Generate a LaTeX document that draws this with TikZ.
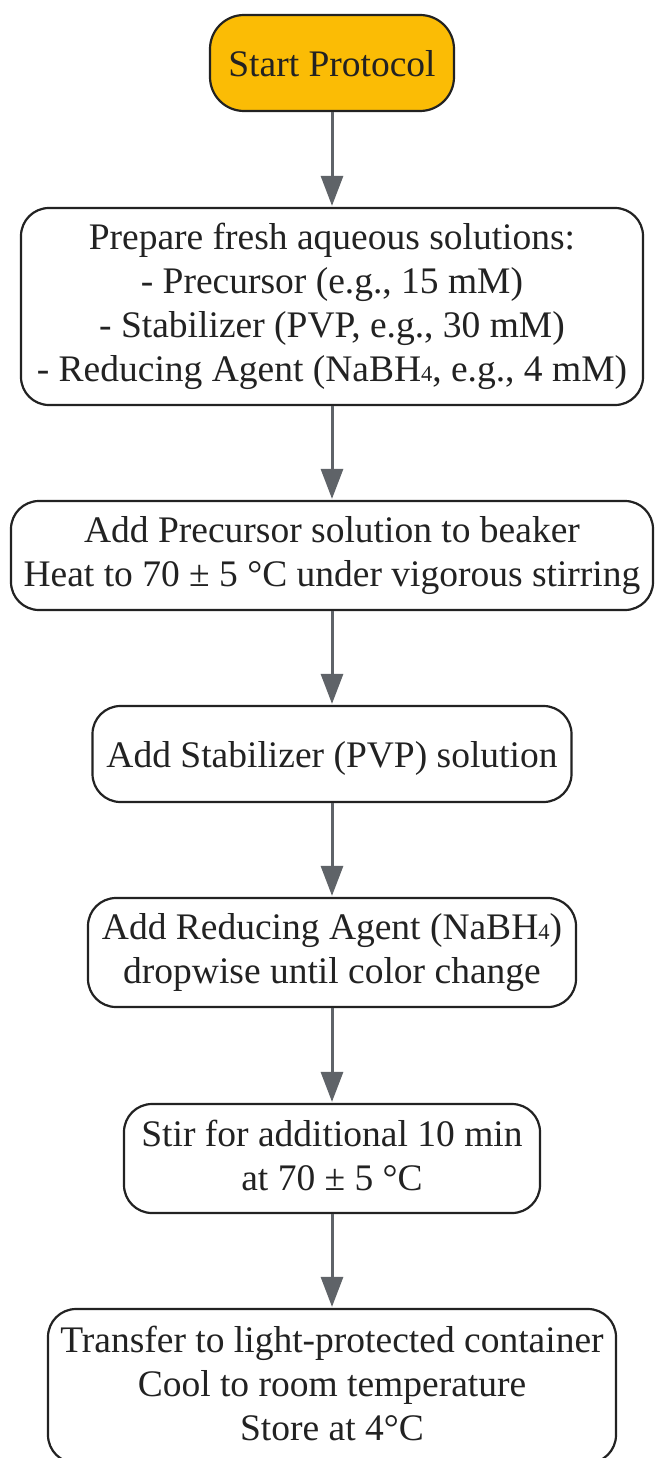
\documentclass[tikz,border=0pt]{standalone}
\usepackage{fontspec}
\setmainfont{Liberation Serif}
\usetikzlibrary{arrows.meta}
\definecolor{startfill}{HTML}{FBBC05}
\definecolor{edgegray}{HTML}{5F6368}
\definecolor{inkc}{HTML}{222222}
\newcommand\subfour{{\fontsize{22.5}{22.5}\selectfont 4}}
\tikzset{
  box/.style={draw=inkc, line width=2.2pt, rounded corners=28pt, fill=white,
    align=center, text=inkc, inner sep=0pt, font=\fontsize{37.5}{44}\selectfont,
    execute at begin node={\rule{0pt}{34pt}},
    execute at end node={\rule[-6pt]{0pt}{6pt}}},
  startbox/.style={box, fill=startfill, rounded corners=34pt},
  arr/.style={draw=edgegray, line width=3pt, -{Triangle[length=30pt,width=22pt]}, shorten >=1pt}
}
\begin{document}
\begin{tikzpicture}[x=1pt,y=-1pt]
\useasboundingbox (0,0) rectangle (655,1458);
\node[startbox, minimum width=244pt, minimum height=96pt] (s) at (332,63) {Start Protocol};
\node[box, minimum width=622pt, minimum height=197pt] (p) at (332,306.5)
  {Prepare fresh aqueous solutions:\\- Precursor (e.g., 15 mM)\\- Stabilizer (PVP, e.g., 30 mM)\\- Reducing Agent (NaBH\subfour, e.g., 4 mM)};
\node[box, minimum width=642pt, minimum height=109pt] (h) at (332,555.5)
  {Add Precursor solution to beaker\\Heat to 70 ± 5 °C under vigorous stirring};
\node[box, minimum width=479pt, minimum height=96pt] (st) at (332,754) {Add Stabilizer (PVP) solution};
\node[box, minimum width=488pt, minimum height=109pt] (r) at (332,952.5)
  {Add Reducing Agent (NaBH\subfour)\\dropwise until color change};
\node[box, minimum width=416pt, minimum height=109pt] (m) at (332,1158.5)
  {Stir for additional 10 min\\at 70 ± 5 °C};
\node[box, minimum width=568pt, minimum height=154pt] (t) at (332,1386)
  {Transfer to light-protected container\\Cool to room temperature\\Store at 4°C};
\draw[arr] (s) -- (p);
\draw[arr] (p) -- (h);
\draw[arr] (h) -- (st);
\draw[arr] (st) -- (r);
\draw[arr] (r) -- (m);
\draw[arr] (m) -- (t);
\end{tikzpicture}
\end{document}
